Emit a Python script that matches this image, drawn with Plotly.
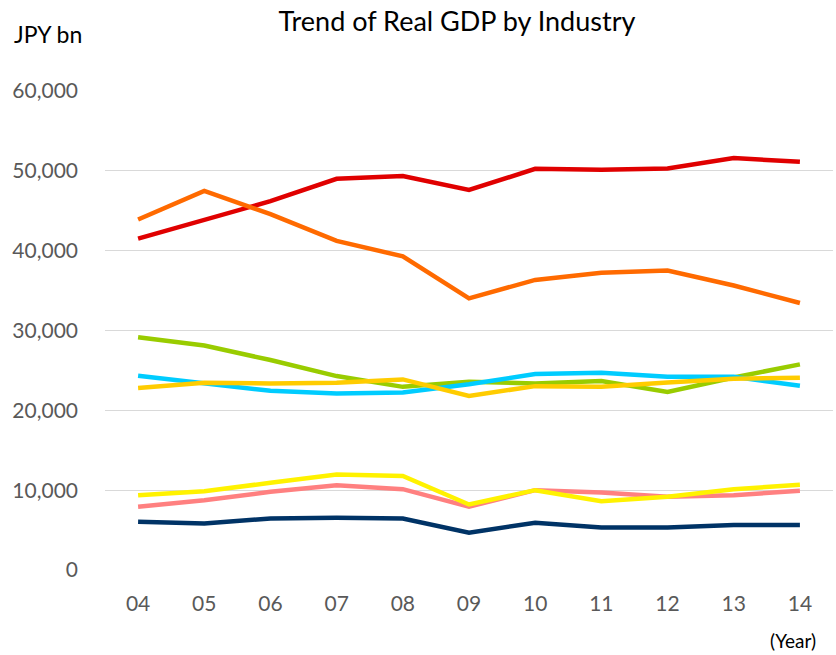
import plotly.graph_objects as go

years = ["04", "05", "06", "07", "08", "09", "10", "11", "12", "13", "14"]

red_series = [41500, 43800, 46200, 49000, 49350, 47600, 50250, 50130, 50290, 51600, 51130]
orange_series = [43900, 47480, 44580, 41220, 39290, 34030, 36340, 37230, 37520, 35630, 33450]
green_series = [29160, 28110, 26300, 24290, 22940, 23570, 23360, 23660, 22310, 24120, 25760]
cyan_series = [24330, 23360, 22440, 22100, 22230, 23280, 24540, 24710, 24200, 24200, 23070]
gold_series = [22810, 23450, 23360, 23450, 23870, 21810, 23030, 22940, 23490, 23950, 24080]
yellow_series = [9375, 9875, 10920, 11960, 11790, 8210, 10000, 8625, 9170, 10125, 10670]
pink_series = [7920, 8750, 9790, 10625, 10125, 7920, 10000, 9710, 9170, 9375, 9920]
navy_series = [6040, 5830, 6460, 6540, 6460, 4670, 5920, 5330, 5330, 5625, 5625]

series = [
    ("Series A", red_series, "#E00000"),
    ("Series B", orange_series, "#FF6A00"),
    ("Series C", green_series, "#99CC00"),
    ("Series D", cyan_series, "#00CCFF"),
    ("Series E", gold_series, "#FFCC00"),
    ("Series F", pink_series, "#FF8080"),
    ("Series G", yellow_series, "#FFF200"),
    ("Series H", navy_series, "#003366"),
]

fig = go.Figure()
for name, vals, col in series:
    fig.add_trace(go.Scatter(x=years, y=vals, mode="lines", name=name,
                             line=dict(color=col, width=4.5)))

font_family = "Lato, Open Sans, sans-serif"
fig.update_layout(
    width=836, height=655,
    margin=dict(l=105, r=3, t=91, b=85),
    paper_bgcolor="white", plot_bgcolor="white",
    showlegend=False,
    font=dict(family=font_family, color="#595959", size=21),
    title=dict(text="Trend of Real GDP by Industry", x=457/836, xref="container", xanchor="center",
               y=1 - 22/655, yref="container", yanchor="middle",
               font=dict(size=27, color="#000000", family=font_family)),
    xaxis=dict(type="category", range=[-0.5, 10.5], showgrid=False, showline=False,
               zeroline=False, ticks="", ticklabelstandoff=19,
               tickfont=dict(size=21, color="#595959")),
    yaxis=dict(range=[0, 60000], tickvals=[0, 10000, 20000, 30000, 40000, 50000, 60000],
               tickformat=",", showgrid=True, gridcolor="#D9D9D9", gridwidth=1,
               zeroline=False, showline=False, ticks="", ticklabelstandoff=26,
               tickfont=dict(size=21, color="#595959")),
    annotations=[
        dict(text="JPY bn", xref="paper", yref="paper", x=(12-105)/728, y=(570-34)/479,
             xanchor="left", yanchor="middle", showarrow=False,
             font=dict(size=23, color="#000000", family=font_family)),
        dict(text="(Year)", xref="paper", yref="paper", x=(818-105)/728, y=(570-640)/479,
             xanchor="right", yanchor="middle", showarrow=False,
             font=dict(size=19, color="#000000", family=font_family)),
    ],
)

fig.write_html("out.html")
